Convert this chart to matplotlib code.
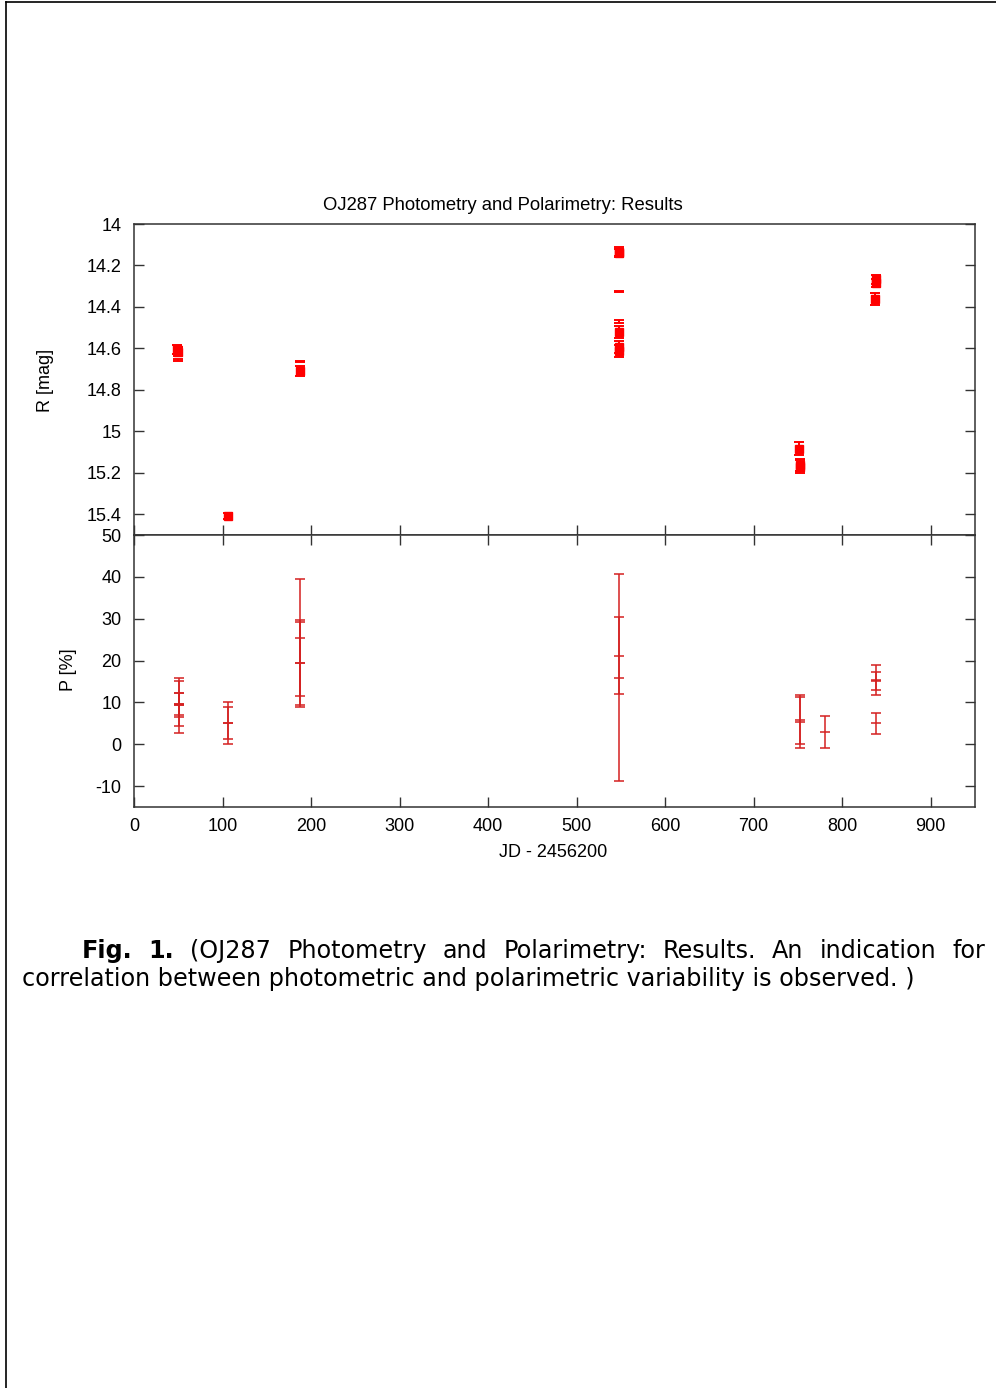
import matplotlib
matplotlib.use('Agg')
import matplotlib.pyplot as plt
from matplotlib.lines import Line2D
from matplotlib.ticker import FormatStrFormatter

plt.rcParams['axes.unicode_minus'] = False

# top panel: R magnitude, filled squares with error bars
jd_r = [49, 50, 106, 188, 548, 548, 548, 548, 548, 751, 752, 752, 838, 838, 837]
r_mag = [14.605, 14.615, 15.41, 14.71, 14.133, 14.14, 14.522, 14.593, 14.612,
         15.083, 15.162, 15.17, 14.267, 14.285, 14.363]
r_err = [0.02, 0.02, 0.015, 0.025, 0.02, 0.02, 0.03, 0.03, 0.03,
         0.03, 0.03, 0.03, 0.02, 0.02, 0.028]

# points that show only as caps ("+" / "=")
jd_r2 = [50, 188, 548, 548]
r_mag2 = [14.657, 14.663, 14.325, 14.471]
r_err2 = [0.006, 0.004, 0.004, 0.008]

# bottom panel: polarization degree
jd_p = [51, 51, 51, 51, 106, 106, 188, 188, 188, 548, 548, 752, 752, 780, 838, 838, 838]
p_val = [9.3, 9.65, 9.6, 9.4, 5.0, 5.1, 25.5, 19.4, 19.3, 15.9, 21.1, 5.3, 5.9, 3.0, 15.3, 15.1, 5.0]
p_err = [6.5, 5.35, 2.7, 2.8, 5.0, 3.8, 14.0, 10.4, 10.0, 24.7, 9.2, 6.1, 5.8, 3.8, 3.6, 2.1, 2.55]

x_ticks = [0, 100, 200, 300, 400, 500, 600, 700, 800, 900]
r_ticks = [14, 14.2, 14.4, 14.6, 14.8, 15, 15.2, 15.4]
p_ticks = [-10, 0, 10, 20, 30, 40, 50]

W, H = 996, 1388
fig = plt.figure(figsize=(W / 100, H / 100), dpi=100)
gfont = 'Liberation Sans'

ax1 = fig.add_axes([134 / W, 1 - 535 / H, 841 / W, 311 / H])
ax2 = fig.add_axes([134 / W, 1 - 807 / H, 841 / W, 272 / H])

ax1.errorbar(jd_r, r_mag, yerr=r_err, fmt='s', color='#ff0000', ms=5.5,
             ecolor='#ff0000', elinewidth=1.4, capsize=3.4, capthick=1.4)
ax1.errorbar(jd_r2, r_mag2, yerr=r_err2, fmt='none', ecolor='#ff0000',
             elinewidth=1.4, capsize=3.4, capthick=1.4)
ax2.errorbar(jd_p, p_val, yerr=p_err, fmt='_', color='#d42020', ms=6.8, mew=1.1,
             ecolor='#d42020', elinewidth=1.1, capsize=3.4, capthick=1.1)

for ax in (ax1, ax2):
    ax.set_xlim(0, 950)
    ax.set_xticks(x_ticks)
    for s in ax.spines.values():
        s.set_linewidth(1.1)
        s.set_color('#333333')
    ax.tick_params(direction='in', length=7, width=1, color='#333333',
                   labelsize=13, right=True)
    ax.tick_params(axis='y', pad=9)

ax1.set_ylim(15.5, 14)
ax1.set_yticks(r_ticks)
ax1.yaxis.set_major_formatter(FormatStrFormatter('%g'))
ax1.tick_params(axis='x', labelbottom=False)
for lab in ax1.get_yticklabels():
    lab.set_fontfamily(gfont)

ax2.set_ylim(-15, 50)
ax2.set_yticks(p_ticks)
ax2.tick_params(axis='x', top=True, pad=8)
for lab in ax2.get_xticklabels() + ax2.get_yticklabels():
    lab.set_fontfamily(gfont)

fig.text(503 / W, 1 - 205 / H, 'OJ287 Photometry and Polarimetry: Results',
         ha='center', va='center', fontsize=13.3, family=gfont)
fig.text(45 / W, 1 - 380 / H, 'R [mag]', rotation=90, ha='center', va='center',
         fontsize=13, family=gfont)
fig.text(68 / W, 1 - 670 / H, 'P [%]', rotation=90, ha='center', va='center',
         fontsize=13, family=gfont)
fig.text(553 / W, 1 - 853 / H, 'JD - 2456200', ha='center', va='center',
         fontsize=13, family=gfont)

# page border (top and left)
fig.add_artist(Line2D([6 / W, 6 / W], [0, 1 - 2 / H], color='black', lw=1.2))
fig.add_artist(Line2D([6 / W, 1], [1 - 2 / H, 1 - 2 / H], color='black', lw=1.2))

# caption, first line justified
cap_size = 17.2
words1 = [('Fig.', 'bold'), ('1.', 'bold'), ('(OJ287', 'normal'), ('Photometry', 'normal'),
          ('and', 'normal'), ('Polarimetry:', 'normal'), ('Results.', 'normal'),
          ('An', 'normal'), ('indication', 'normal'), ('for', 'normal')]
renderer = fig.canvas.get_renderer()
objs = []
total = 0
for w, wt in words1:
    t = fig.text(0, 1 - 951 / H, w, fontsize=cap_size, fontweight=wt,
                 family='DejaVu Sans', va='center', ha='left')
    bb = t.get_window_extent(renderer)
    objs.append((t, bb.width))
    total += bb.width
x0, x1 = 82, 985
gap = (x1 - x0 - total) / (len(objs) - 1)
x = x0
for t, wd in objs:
    t.set_x(x / W)
    x += wd + gap
fig.text(22 / W, 1 - 979 / H,
         'correlation between photometric and polarimetric variability is observed. )',
         fontsize=cap_size, family='DejaVu Sans', va='center', ha='left')

fig.savefig('out.png', dpi=100)
